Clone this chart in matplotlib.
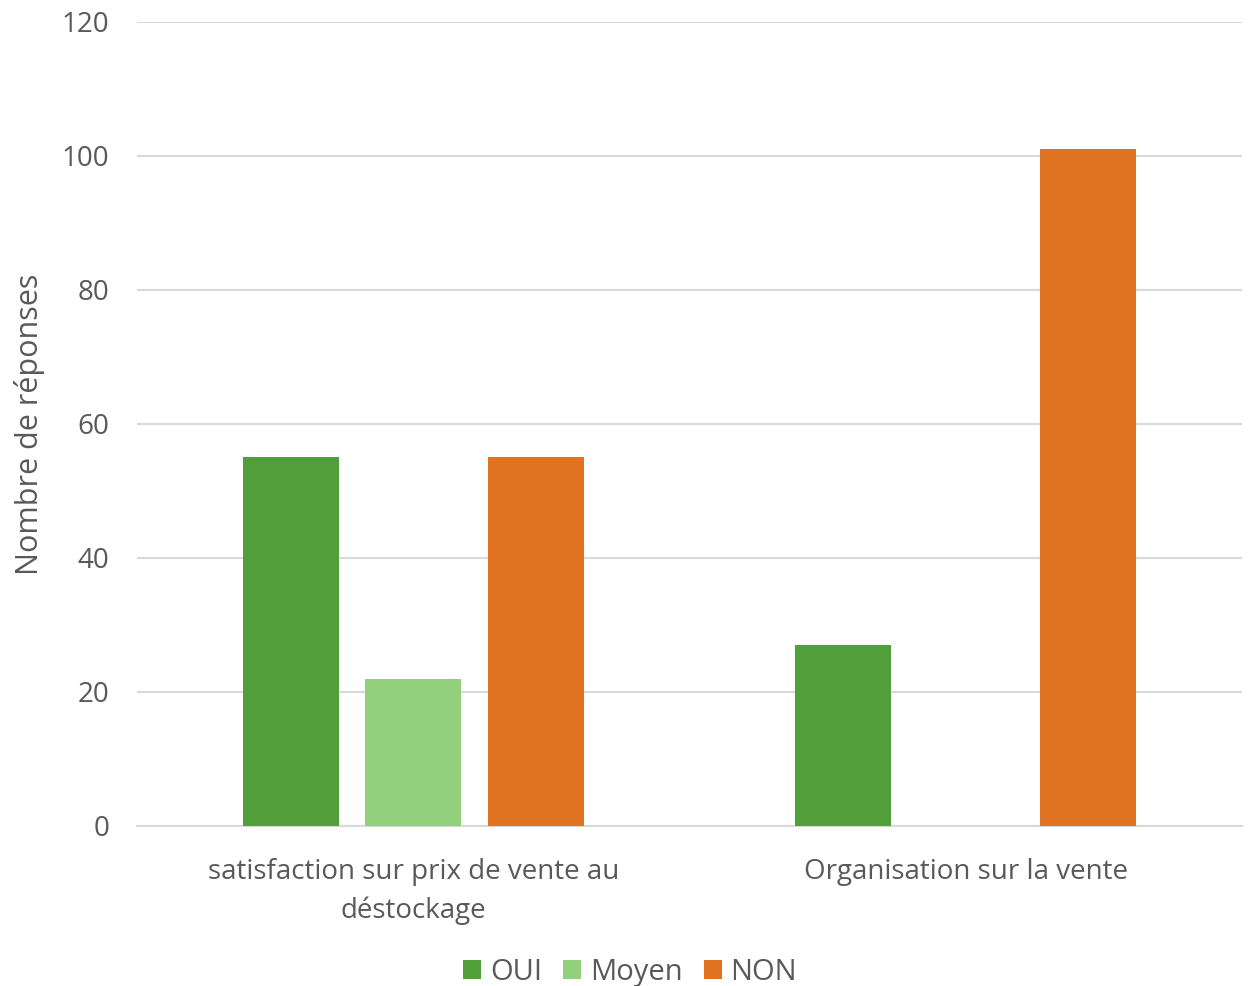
import numpy as np
import matplotlib.pyplot as plt

plt.rcParams['font.family'] = ['Open Sans', 'DejaVu Sans']

categories = ["satisfaction sur prix de vente au\ndéstockage", "Organisation sur la vente"]
series = ["OUI", "Moyen", "NON"]
oui = [55, 27]
moyen = [22, 0]
non = [55, 101]
colors = ["#529E3A", "#92D07E", "#E07320"]
text_c = "#595959"

fig = plt.figure(figsize=(12.48, 9.86), dpi=100)
ax = fig.add_axes([0.1098, 0.1623, 0.8854, 0.8154])

x = np.arange(len(categories))
w = 0.174
step = 0.222
for i, (vals, name) in enumerate(zip([oui, moyen, non], series)):
    ax.bar(x + (i - 1) * step, vals, w, color=colors[i], label=name, zorder=3)

ax.set_xlim(-0.5, 1.5)
ax.set_ylim(0, 120)
ax.set_yticks(range(0, 121, 20))
ax.yaxis.grid(True, color="#D9D9D9", linewidth=1.5, zorder=0)
for s in ["top", "right", "left"]:
    ax.spines[s].set_visible(False)
ax.spines["bottom"].set_color("#D9D9D9")
ax.spines["bottom"].set_linewidth(1.5)

fs = 20
ax.set_xticks(x)
ax.set_xticklabels(categories, fontsize=fs, color=text_c, linespacing=1.47)
ax.tick_params(axis="x", length=0, pad=23)
ax.tick_params(axis="y", length=0, pad=20, labelsize=fs, labelcolor=text_c)
ax.set_ylabel("Nombre de réponses", fontsize=22, color=text_c, labelpad=12)

# legend centred on the whole figure, below the category labels
fig.legend(loc="center", bbox_to_anchor=(0.505, 0.0135), ncol=3, frameon=False,
           fontsize=21, labelcolor=text_c, handlelength=0.62, handleheight=0.62,
           handletextpad=0.3, columnspacing=0.72, borderpad=0)

fig.savefig("out.png", dpi=100)
